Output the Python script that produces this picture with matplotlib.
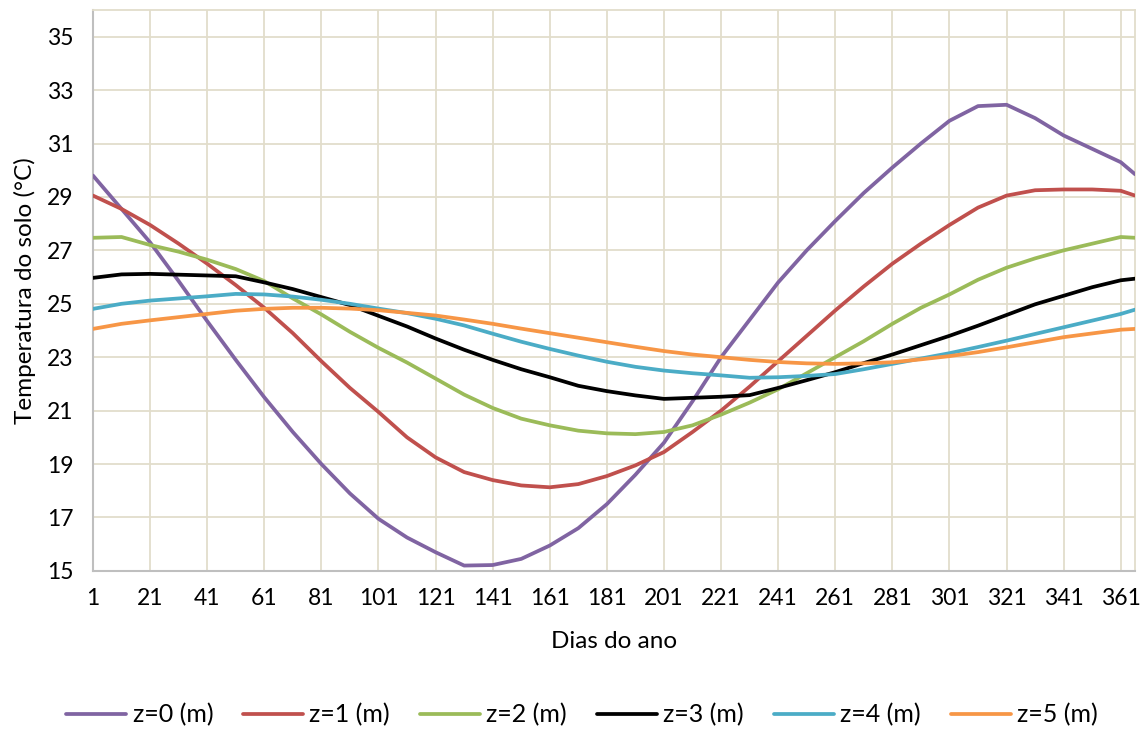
import matplotlib
matplotlib.use('Agg')
import matplotlib.pyplot as plt

plt.rcParams['font.family'] = ['Lato', 'DejaVu Sans']

# days of the year (read every 10 days)
dias = [1, 11, 21, 31, 41, 51, 61, 71, 81, 91, 101, 111, 121, 131, 141, 151,
        161, 171, 181, 191, 201, 211, 221, 231, 241, 251, 261, 271, 281, 291,
        301, 311, 321, 331, 341, 351, 361, 366]

# soil temperature (degC) for each depth
z0 = [29.8, 28.55, 27.3, 25.85, 24.35, 22.9, 21.5, 20.2, 19.0, 17.9, 16.95,
      16.25, 15.7, 15.2, 15.22, 15.45, 15.95, 16.6, 17.5, 18.6, 19.8, 21.35,
      23.0, 24.4, 25.8, 27.0, 28.1, 29.15, 30.1, 31.0, 31.85, 32.4, 32.45,
      31.95, 31.3, 30.8, 30.3, 29.85]
z1 = [29.05, 28.55, 27.95, 27.25, 26.5, 25.7, 24.85, 23.9, 22.85, 21.85, 20.95,
      20.0, 19.25, 18.7, 18.4, 18.2, 18.13, 18.25, 18.55, 18.95, 19.45, 20.2,
      21.0, 21.9, 22.85, 23.8, 24.75, 25.65, 26.5, 27.25, 27.95, 28.6, 29.05,
      29.25, 29.28, 29.28, 29.23, 29.05]
z2 = [27.47, 27.5, 27.2, 26.95, 26.65, 26.3, 25.85, 25.2, 24.6, 23.95, 23.35,
      22.8, 22.2, 21.6, 21.1, 20.7, 20.45, 20.25, 20.15, 20.12, 20.2, 20.45,
      20.85, 21.3, 21.8, 22.4, 23.0, 23.6, 24.25, 24.85, 25.35, 25.9, 26.35,
      26.7, 27.0, 27.25, 27.5, 27.47]
z3 = [25.97, 26.1, 26.12, 26.09, 26.06, 26.03, 25.8, 25.55, 25.25, 24.95, 24.55,
      24.15, 23.7, 23.28, 22.9, 22.55, 22.25, 21.93, 21.73, 21.57, 21.44, 21.48,
      21.52, 21.58, 21.85, 22.14, 22.44, 22.78, 23.1, 23.45, 23.8, 24.18, 24.58,
      24.98, 25.3, 25.62, 25.88, 25.94]
z4 = [24.81, 25.0, 25.12, 25.2, 25.28, 25.37, 25.35, 25.27, 25.15, 25.0, 24.82,
      24.65, 24.44, 24.19, 23.88, 23.58, 23.31, 23.06, 22.83, 22.64, 22.5, 22.4,
      22.32, 22.23, 22.25, 22.3, 22.37, 22.55, 22.75, 22.95, 23.15, 23.38, 23.62,
      23.87, 24.12, 24.37, 24.62, 24.78]
z5 = [24.06, 24.25, 24.38, 24.5, 24.62, 24.74, 24.81, 24.85, 24.85, 24.82, 24.76,
      24.66, 24.56, 24.41, 24.25, 24.07, 23.9, 23.73, 23.56, 23.39, 23.23, 23.1,
      23.0, 22.9, 22.82, 22.77, 22.75, 22.77, 22.81, 22.92, 23.04, 23.19, 23.37,
      23.56, 23.75, 23.89, 24.03, 24.06]

series = [z0, z1, z2, z3, z4, z5]
labels = ['z=0 (m)', 'z=1 (m)', 'z=2 (m)', 'z=3 (m)', 'z=4 (m)', 'z=5 (m)']
colors = ['#8064A2', '#C0504D', '#9BBB59', '#000000', '#4BACC6', '#F79646']

xticks = list(range(1, 362, 20))
yticks = list(range(15, 36, 2))

fig = plt.figure(figsize=(11.48, 7.31), dpi=100)
ax = fig.add_axes([0.081, 0.219, 0.9077, 0.7674])

grid_c = '#E2DDCB'
for s, lab, c in zip(series, labels, colors):
    ax.plot(dias, s, color=c, lw=2.7, label=lab, solid_capstyle='round', zorder=3)

ax.set_xlim(1, 366)
ax.set_ylim(15, 36)
ax.set_xticks(xticks)
ax.set_yticks(yticks)
ax.grid(True, color=grid_c, lw=1.3, zorder=0)
ax.tick_params(length=0, labelsize=16.5, pad=12)
ax.tick_params(axis='y', pad=14)

for side in ['top', 'right']:
    ax.spines[side].set_color(grid_c)
    ax.spines[side].set_linewidth(1.3)
for side in ['left', 'bottom']:
    ax.spines[side].set_color('#BFBFBF')
    ax.spines[side].set_linewidth(1.5)

ax.set_xlabel('Dias do ano', fontsize=17.5, labelpad=16)
ax.set_ylabel('Temperatura do solo (°C)', fontsize=17.5, labelpad=8)

fig.legend(loc='center', bbox_to_anchor=(0.507, 0.022), ncol=6, frameon=False,
           fontsize=18, handlelength=2.4, columnspacing=1.2, handletextpad=0.25)

fig.savefig('out.png', dpi=100)
